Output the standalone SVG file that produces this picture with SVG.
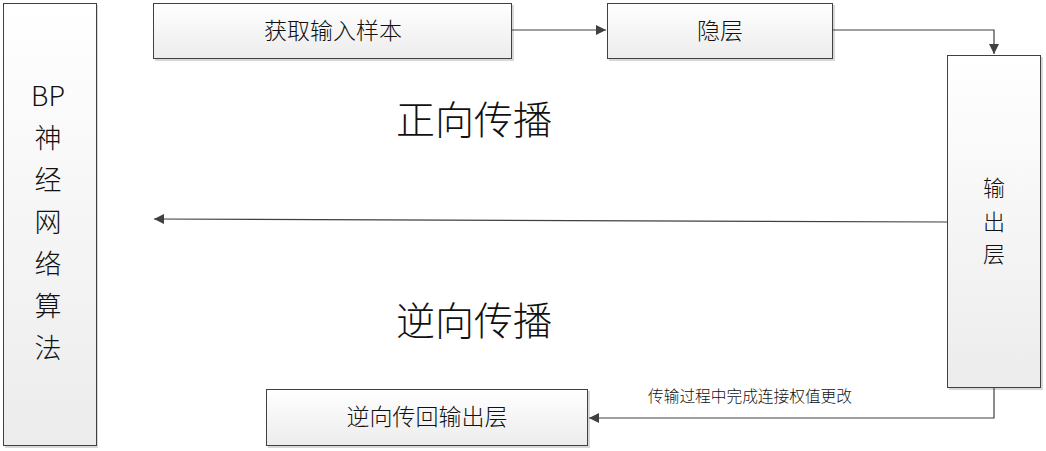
<svg xmlns="http://www.w3.org/2000/svg" width="1046" height="451" viewBox="0 0 1046 451">
<defs>
<linearGradient id="g" x1="0" y1="0" x2="0" y2="1">
<stop offset="0" stop-color="#ffffff"/>
<stop offset="1" stop-color="#ececec"/>
</linearGradient>
<marker id="arr" viewBox="0 0 10 10" refX="10" refY="5" markerWidth="10" markerHeight="10" markerUnits="userSpaceOnUse" orient="auto">
<path d="M0,0 L10,5 L0,10 z" fill="#404040"/>
</marker>
<style>
.box{fill:url(#g);stroke:#404040;stroke-width:1}
.sh{fill:#d8d8d8}
.t{font-family:"Noto Sans CJK SC","Liberation Sans",sans-serif;font-weight:300;fill:#111;text-anchor:middle}
.c{fill:none;stroke:#404040;stroke-width:1.2}
</style>
</defs>
<rect width="1046" height="451" fill="#fff"/>
<g id="bp">
<rect class="sh" x="5" y="5" width="93" height="443"/>
<rect class="box" x="3.5" y="3.5" width="93" height="442"/>
<text class="t" font-size="27" x="48" y="106">BP</text>
<text class="t" font-size="27" x="48" y="148">神</text>
<text class="t" font-size="27" x="48" y="190">经</text>
<text class="t" font-size="27" x="48" y="232">网</text>
<text class="t" font-size="27" x="48" y="274">络</text>
<text class="t" font-size="27" x="48" y="316">算</text>
<text class="t" font-size="27" x="48" y="358">法</text>
</g>
<g id="input">
<rect class="sh" x="155" y="5" width="359" height="56"/>
<rect class="box" x="153.5" y="3.5" width="358" height="55"/>
<text class="t" font-size="23" x="333" y="39">获取输入样本</text>
</g>
<g id="hidden">
<rect class="sh" x="609" y="5" width="226" height="56"/>
<rect class="box" x="607.5" y="3.5" width="225" height="55"/>
<text class="t" font-size="23" x="720" y="39">隐层</text>
</g>
<g id="output">
<rect class="sh" x="949" y="57" width="94" height="333"/>
<rect class="box" x="947.5" y="55.5" width="93" height="332"/>
<text class="t" font-size="22" x="994" y="196">输</text>
<text class="t" font-size="22" x="994" y="230">出</text>
<text class="t" font-size="22" x="994" y="262">层</text>
</g>
<g id="back">
<rect class="sh" x="268" y="391" width="322" height="57"/>
<rect class="box" x="266.5" y="389.5" width="321" height="56"/>
<text class="t" font-size="23" x="427" y="425">逆向传回输出层</text>
</g>
<g id="labels">
<text class="t" font-size="39" x="474" y="134">正向传播</text>
<text class="t" font-size="39" x="474" y="335">逆向传播</text>
<text class="t" font-size="15.7" x="750" y="402">传输过程中完成连接权值更改</text>
</g>
<g id="connectors">
<path class="c" d="M512,30 H606" marker-end="url(#arr)"/>
<path class="c" d="M833,30 H994 V54" marker-end="url(#arr)"/>
<path class="c" d="M947,222 L154,219" marker-end="url(#arr)"/>
<path class="c" d="M994,388 V418 H589" marker-end="url(#arr)"/>
</g>
</svg>
